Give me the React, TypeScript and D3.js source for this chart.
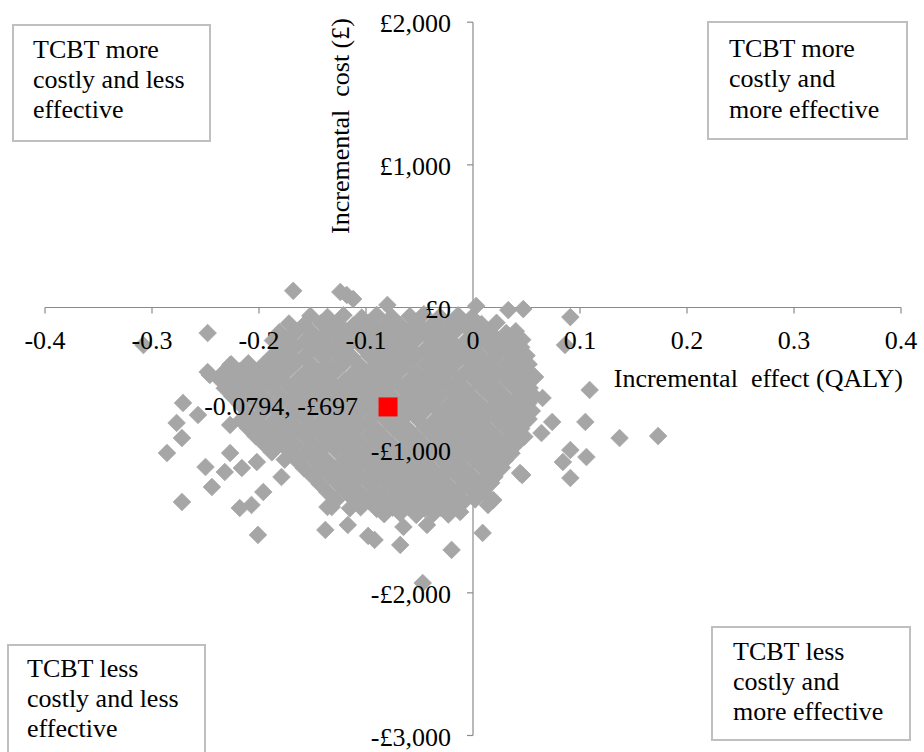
import React from "react";
import * as d3 from "d3";

// ---------- data (effect in QALY, cost in £) ----------
const xTicks = [-0.4, -0.3, -0.2, -0.1, 0, 0.1, 0.2, 0.3, 0.4];
const xTickLabels = ["-0.4", "-0.3", "-0.2", "-0.1", "0", "0.1", "0.2", "0.3", "0.4"];
const yTicks = [2000, 1000, 0, -1000, -2000, -3000];
const yTickLabels = ["£2,000", "£1,000", "£0", "-£1,000", "-£2,000", "-£3,000"];

const meanEffect = [-0.0794];
const meanCost = [-697];
const meanLabel = ["-0.0794, -£697"];

const xTitle = "Incremental  effect (QALY)";
const yTitle = "Incremental  cost (£)";

const quadrantTopLeft = ["TCBT more", "costly and less", "effective"];
const quadrantTopRight = ["TCBT more", "costly and", "more effective"];
const quadrantBottomLeft = ["TCBT less", "costly and less", "effective"];
const quadrantBottomRight = ["TCBT less", "costly and", "more effective"];

const cloudUpper: [number, number][] = [
  [-0.152,-58],[-0.136,-66],[-0.121,-54],[-0.104,-71],[-0.090,-52],[-0.076,-65],[-0.059,-60],[-0.046,-47],[-0.031,-63],[-0.014,-55],[-0.001,-69],
  [-0.172,-112],[-0.158,-121],[-0.142,-109],[-0.128,-118],[-0.112,-126],[-0.098,-108],[-0.082,-116],[-0.068,-122],[-0.052,-111],[-0.038,-119],[-0.022,-109],[-0.008,-125],[0.008,-116],[0.022,-107],
  [-0.181,-173],[-0.165,-166],[-0.150,-178],[-0.136,-170],[-0.119,-163],[-0.105,-177],[-0.091,-169],[-0.074,-175],[-0.060,-165],[-0.046,-180],[-0.030,-171],[-0.016,-164],[0.001,-176],[0.015,-168],[0.031,-179],[0.040,-166],
  [-0.187,-231],[-0.173,-222],[-0.157,-235],[-0.143,-226],[-0.127,-219],[-0.112,-233],[-0.098,-227],[-0.083,-221],[-0.067,-236],[-0.053,-225],[-0.037,-230],[-0.023,-220],[-0.007,-234],[0.008,-228],[0.023,-223],[0.037,-232],[0.046,-226],
  [-0.180,-286],[-0.166,-279],[-0.150,-290],[-0.135,-281],[-0.121,-288],[-0.104,-277],[-0.090,-291],[-0.075,-283],[-0.061,-278],[-0.044,-289],[-0.030,-284],[-0.015,-276],[0.000,-292],[0.016,-281],[0.030,-287],[0.045,-279],
  [-0.188,-342],[-0.172,-335],[-0.158,-347],[-0.142,-338],[-0.127,-331],[-0.113,-345],[-0.097,-339],[-0.083,-333],[-0.068,-348],[-0.052,-336],[-0.038,-342],[-0.022,-332],[-0.008,-346],[0.007,-339],[0.023,-334],[0.038,-345],[0.050,-337],
  [-0.226,-398],[-0.210,-391],[-0.196,-402],[-0.180,-393],[-0.165,-386],[-0.151,-400],[-0.135,-394],[-0.120,-389],[-0.106,-403],[-0.090,-392],[-0.075,-398],[-0.060,-387],[-0.044,-401],[-0.030,-395],[-0.016,-390],[0.000,-404],[0.015,-393],[0.031,-399],[0.045,-388],[0.052,-397],
  [-0.233,-454],[-0.218,-447],[-0.203,-459],[-0.187,-450],[-0.173,-443],[-0.157,-457],[-0.143,-451],[-0.128,-445],[-0.112,-460],[-0.097,-448],[-0.083,-455],[-0.068,-444],[-0.053,-458],[-0.038,-452],[-0.022,-446],[-0.008,-461],[0.008,-449],[0.022,-456],[0.038,-445],[0.053,-453],
];

const cloudMiddle: [number, number][] = [
  [-0.236,-510],[-0.225,-503],[-0.211,-514],[-0.195,-506],[-0.181,-499],[-0.165,-513],[-0.150,-507],[-0.136,-501],[-0.120,-516],[-0.105,-504],[-0.091,-511],[-0.075,-500],[-0.060,-515],[-0.045,-508],[-0.030,-502],[-0.015,-517],[0.001,-505],[0.015,-512],[0.030,-501],[0.045,-509],[0.055,-504],
  [-0.232,-566],[-0.218,-559],[-0.202,-571],[-0.188,-562],[-0.172,-555],[-0.157,-569],[-0.143,-563],[-0.128,-557],[-0.112,-572],[-0.098,-560],[-0.082,-567],[-0.068,-556],[-0.052,-570],[-0.038,-564],[-0.023,-558],[-0.007,-573],[0.008,-561],[0.022,-568],[0.038,-557],[0.053,-565],
  [-0.225,-622],[-0.210,-615],[-0.196,-627],[-0.180,-618],[-0.165,-611],[-0.150,-625],[-0.135,-619],[-0.121,-613],[-0.105,-628],[-0.090,-616],[-0.076,-623],[-0.060,-612],[-0.045,-626],[-0.031,-620],[-0.015,-614],[0.000,-629],[0.016,-617],[0.030,-624],[0.045,-613],[0.057,-621],
  [-0.218,-678],[-0.202,-671],[-0.188,-683],[-0.172,-674],[-0.158,-667],[-0.142,-681],[-0.127,-675],[-0.113,-669],[-0.097,-684],[-0.083,-672],[-0.067,-679],[-0.053,-668],[-0.038,-682],[-0.022,-676],[-0.008,-670],[0.008,-685],[0.022,-673],[0.038,-680],[0.052,-669],
  [-0.211,-734],[-0.195,-727],[-0.180,-739],[-0.166,-730],[-0.150,-723],[-0.135,-737],[-0.120,-731],[-0.105,-725],[-0.091,-740],[-0.075,-728],[-0.060,-735],[-0.045,-724],[-0.030,-738],[-0.015,-732],[0.000,-726],[0.015,-741],[0.031,-729],[0.045,-736],[0.055,-725],
  [-0.217,-791],[-0.203,-784],[-0.187,-796],[-0.173,-787],[-0.157,-780],[-0.142,-794],[-0.128,-788],[-0.112,-782],[-0.098,-797],[-0.082,-785],[-0.068,-792],[-0.052,-781],[-0.037,-795],[-0.023,-789],[-0.008,-783],[0.007,-798],[0.023,-786],[0.037,-793],[0.052,-782],
  [-0.210,-847],[-0.196,-840],[-0.180,-852],[-0.165,-843],[-0.151,-836],[-0.135,-850],[-0.120,-844],[-0.106,-838],[-0.090,-853],[-0.075,-841],[-0.061,-848],[-0.045,-837],[-0.030,-851],[-0.015,-845],[0.000,-839],[0.015,-854],[0.030,-842],[0.045,-849],
  [-0.203,-903],[-0.188,-896],[-0.172,-908],[-0.158,-899],[-0.142,-892],[-0.128,-906],[-0.113,-900],[-0.097,-894],[-0.083,-909],[-0.067,-897],[-0.053,-904],[-0.038,-893],[-0.022,-907],[-0.008,-901],[0.008,-895],[0.022,-910],[0.037,-898],[0.048,-905],
  [-0.195,-959],[-0.180,-952],[-0.166,-964],[-0.150,-955],[-0.135,-948],[-0.121,-962],[-0.105,-956],[-0.090,-950],[-0.075,-965],[-0.060,-953],[-0.046,-960],[-0.030,-949],[-0.015,-963],[0.000,-957],[0.015,-951],[0.030,-966],[0.041,-954],
];

const cloudLower: [number, number][] = [
  [-0.188,-1015],[-0.172,-1008],[-0.157,-1020],[-0.143,-1011],[-0.128,-1004],[-0.112,-1018],[-0.098,-1012],[-0.083,-1006],[-0.067,-1021],[-0.053,-1009],[-0.038,-1016],[-0.022,-1005],[-0.008,-1019],[0.007,-1013],[0.022,-1007],[0.036,-1022],
  [-0.165,-1071],[-0.150,-1064],[-0.136,-1076],[-0.120,-1067],[-0.105,-1060],[-0.090,-1074],[-0.075,-1068],[-0.060,-1062],[-0.045,-1077],[-0.030,-1065],[-0.016,-1072],[0.000,-1061],[0.015,-1075],[0.030,-1069],
  [-0.158,-1127],[-0.142,-1120],[-0.128,-1132],[-0.113,-1123],[-0.097,-1116],[-0.083,-1130],[-0.068,-1124],[-0.052,-1118],[-0.038,-1133],[-0.023,-1121],[-0.008,-1128],[0.008,-1117],[0.022,-1131],[0.027,-1122],
  [-0.150,-1183],[-0.135,-1176],[-0.120,-1188],[-0.105,-1179],[-0.090,-1172],[-0.075,-1186],[-0.060,-1180],[-0.045,-1174],[-0.030,-1189],[-0.015,-1177],[0.000,-1184],[0.015,-1173],[0.020,-1187],
  [-0.143,-1239],[-0.127,-1232],[-0.113,-1244],[-0.097,-1235],[-0.082,-1228],[-0.068,-1242],[-0.053,-1236],[-0.037,-1230],[-0.023,-1245],[-0.008,-1233],[0.008,-1240],[0.017,-1229],
  [-0.136,-1295],[-0.120,-1288],[-0.105,-1300],[-0.090,-1291],[-0.075,-1284],[-0.060,-1298],[-0.045,-1292],[-0.030,-1286],[-0.015,-1301],[0.000,-1289],[0.010,-1296],
  [-0.128,-1351],[-0.112,-1344],[-0.097,-1356],[-0.083,-1347],[-0.068,-1340],[-0.053,-1354],[-0.038,-1348],[-0.022,-1342],[-0.008,-1357],[0.002,-1345],
  [-0.115,-1407],[-0.105,-1400],[-0.090,-1412],[-0.075,-1403],[-0.060,-1396],[-0.045,-1410],[-0.030,-1404],[-0.016,-1398],
  [-0.083,-1449],[-0.068,-1442],[-0.053,-1454],[-0.037,-1445],[-0.023,-1451],
];

const outliersAbove: [number, number][] = [
  [-0.168,117],[-0.124,109],[-0.118,88],[-0.112,60],[-0.080,18],[0.003,11],[0.033,-18],[0.047,-11],[0.091,-67],
];

const outliersLeft: [number, number][] = [
  [-0.248,-179],[-0.308,-263],[-0.248,-452],[-0.227,-403],[-0.246,-473],[-0.271,-669],[-0.257,-753],[-0.277,-809],
  [-0.272,-915],[-0.286,-1020],[-0.227,-823],[-0.227,-1020],[-0.250,-1118],[-0.232,-1153],[-0.244,-1258],[-0.272,-1363],
  [-0.216,-1125],[-0.202,-1083],[-0.218,-1405],[-0.207,-1384],[-0.196,-1293],[-0.201,-1594],[-0.179,-1188],[-0.176,-1066],
];

const outliersRight: [number, number][] = [
  [0.086,-263],[0.109,-578],[0.105,-802],[0.137,-915],[0.173,-901],[0.091,-999],[0.084,-1083],[0.106,-1048],
  [0.091,-1195],[0.065,-634],[0.074,-802],[0.064,-880],[0.058,-487],[0.046,-1174],[0.044,-1160],
];

const outliersBelow: [number, number][] = [
  [0.019,-1349],[0.014,-1384],[0.009,-1580],[-0.020,-1699],[-0.047,-1931],[-0.068,-1664],[-0.092,-1629],[-0.098,-1601],
  [-0.117,-1524],[-0.138,-1559],[-0.065,-1538],[-0.043,-1524],[-0.012,-1433],[-0.026,-1370],[-0.132,-1398],[-0.136,-1398],
];

// ---------- layout ----------
const W = 924;
const H = 752;
const FONT = "'Liberation Serif', 'Times New Roman', Tinos, 'DejaVu Serif', serif";
const FS = 26;
const AXIS = "#8a8a8a";
const MARK = "#a6a6a6";
const R = 8.8;

const x = d3.scaleLinear().domain([-0.4, 0.4]).range([45, 901]);
const y = d3.scaleLinear().domain([-3000, 2000]).range([735.5, 22.2]);

const diamond = `M0,${-R}L${R},0L0,${R}L${-R},0Z`;
const textStyle: React.CSSProperties = { fontFamily: FONT, fontSize: FS, fill: "#000", whiteSpace: "pre" };

function QuadBox({ x0, y0, w, h, tx, baselines, lines }: { x0: number; y0: number; w: number; h: number; tx: number; baselines: number[]; lines: string[] }) {
  return (
    <g>
      <rect x={x0} y={y0} width={w} height={h} fill="#ffffff" stroke="#bfbfbf" strokeWidth={2} />
      {lines.map((t, i) => (
        <text key={i} x={tx} y={baselines[i]} style={textStyle}>
          {t}
        </text>
      ))}
    </g>
  );
}

export default function App() {
  const x0 = x(0);
  const y0 = y(0);
  const allPoints = [...cloudUpper, ...cloudMiddle, ...cloudLower, ...outliersAbove, ...outliersLeft, ...outliersRight, ...outliersBelow];
  const mx = x(meanEffect[0]);
  const my = y(meanCost[0]);
  return (
    <svg width={W} height={H} style={{ position: "absolute", left: 0, top: 0, background: "#fff" }}>
      {/* axes */}
      <line x1={x(-0.4)} x2={x(0.4)} y1={y0} y2={y0} stroke={AXIS} strokeWidth={1.2} />
      {xTicks.map((t, i) => (
        <line key={"xt" + i} x1={x(t)} x2={x(t)} y1={y0} y2={y0 + 6} stroke={AXIS} strokeWidth={1.2} />
      ))}
      <line x1={x0} x2={x0} y1={y(2000)} y2={y(-3000)} stroke={AXIS} strokeWidth={1.2} />
      {yTicks.map((t, i) => (
        <line key={"yt" + i} x1={x0 - 6} x2={x0} y1={y(t)} y2={y(t)} stroke={AXIS} strokeWidth={1.2} />
      ))}

      {/* simulations */}
      <g fill={MARK} stroke={MARK} strokeWidth={0.8} strokeLinejoin="miter">
        {allPoints.map((p, i) => (
          <path key={"p" + i} d={diamond} transform={`translate(${x(p[0])},${y(p[1])})`} />
        ))}
      </g>

      {/* mean */}
      <rect x={mx - 9.5} y={my - 9.5} width={19} height={19} fill="#ff0000" />

      {/* tick labels */}
      {xTicks.map((t, i) => (
        <text key={"xl" + i} x={x(t)} y={349} textAnchor="middle" style={textStyle}>
          {xTickLabels[i]}
        </text>
      ))}
      {yTicks.map((t, i) => (
        <text key={"yl" + i} x={451} y={y(t) + 10} textAnchor="end" style={textStyle}>
          {yTickLabels[i]}
        </text>
      ))}

      {/* axis titles */}
      <text x={903} y={387} textAnchor="end" style={textStyle}>
        {xTitle}
      </text>
      <text transform={`translate(349,126) rotate(-90)`} textAnchor="middle" style={textStyle}>
        {yTitle}
      </text>

      {/* mean label */}
      <text x={mx - 30} y={my + 8.5} textAnchor="end" style={textStyle}>
        {meanLabel[0]}
      </text>

      {/* quadrant boxes */}
      <QuadBox x0={13} y0={25} w={197} h={116} tx={33} baselines={[58, 88, 118]} lines={quadrantTopLeft} />
      <QuadBox x0={708} y0={22} w={199} h={117} tx={729} baselines={[57, 87, 118]} lines={quadrantTopRight} />
      <QuadBox x0={8} y0={645} w={197} h={120} tx={27} baselines={[677, 707, 737]} lines={quadrantBottomLeft} />
      <QuadBox x0={712} y0={627} w={198} h={113} tx={733} baselines={[660, 690, 720]} lines={quadrantBottomRight} />
    </svg>
  );
}
